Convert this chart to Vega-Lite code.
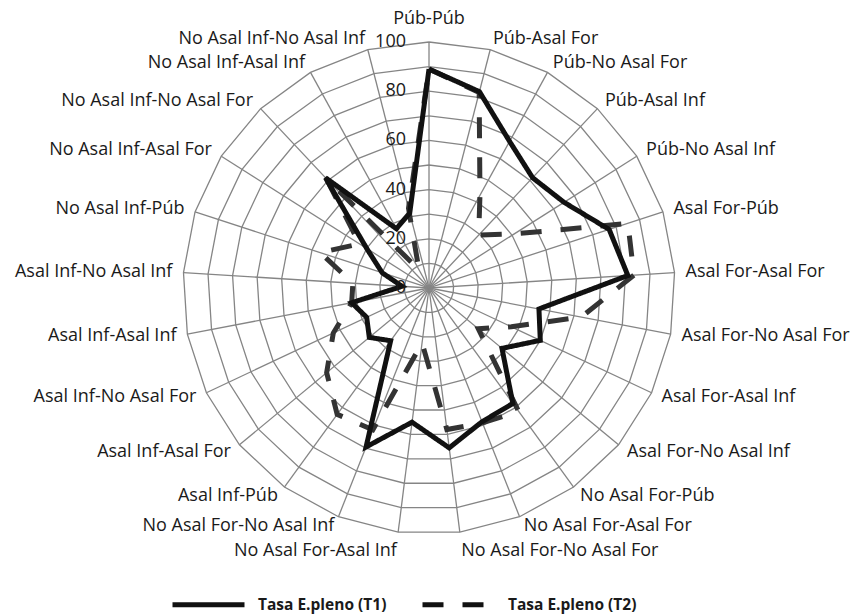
{
  "$schema": "https://vega.github.io/schema/vega-lite/v6.json",
  "width": 866,
  "height": 615,
  "padding": 0,
  "autosize": {"type": "none"},
  "background": "white",
  "config": {"view": {"stroke": null}, "font": "Open Sans"},
  "datasets": {
    "radar": [
      {"idx": 0, "cat": "Púb-Púb", "T1": 89, "T2": 89},
      {"idx": 1, "cat": "Púb-Asal For", "T1": 82.4, "T2": 82},
      {"idx": 2, "cat": "Púb-No Asal For", "T1": 68, "T2": 43},
      {"idx": 3, "cat": "Púb-Asal Inf", "T1": 61.5, "T2": 29.5},
      {"idx": 4, "cat": "Púb-No Asal Inf", "T1": 65, "T2": 41},
      {"idx": 5, "cat": "Asal For-Púb", "T1": 77, "T2": 85},
      {"idx": 6, "cat": "Asal For-Asal For", "T1": 81, "T2": 83.5},
      {"idx": 7, "cat": "Asal For-No Asal For", "T1": 45.5, "T2": 63},
      {"idx": 8, "cat": "Asal For-Asal Inf", "T1": 50, "T2": 37},
      {"idx": 9, "cat": "Asal For-No Asal Inf", "T1": 38.5, "T2": 26},
      {"idx": 10, "cat": "No Asal For-Púb", "T1": 58, "T2": 62},
      {"idx": 11, "cat": "No Asal For-Asal For", "T1": 58.5, "T2": 59},
      {"idx": 12, "cat": "No Asal For-No Asal For", "T1": 65.5, "T2": 58},
      {"idx": 13, "cat": "No Asal For-Asal Inf", "T1": 55, "T2": 22.5},
      {"idx": 14, "cat": "No Asal For-No Asal Inf", "T1": 69.5, "T2": 62},
      {"idx": 15, "cat": "Asal Inf-Púb", "T1": 26.5, "T2": 63.5},
      {"idx": 16, "cat": "Asal Inf-Asal For", "T1": 31.5, "T2": 54},
      {"idx": 17, "cat": "Asal Inf-No Asal For", "T1": 28, "T2": 43},
      {"idx": 18, "cat": "Asal Inf-Asal Inf", "T1": 32, "T2": 32},
      {"idx": 19, "cat": "Asal Inf-No Asal Inf", "T1": 11, "T2": 31},
      {"idx": 20, "cat": "No Asal Inf-Púb", "T1": 20, "T2": 46.5},
      {"idx": 21, "cat": "No Asal Inf-Asal For", "T1": 30, "T2": 33.5},
      {"idx": 22, "cat": "No Asal Inf-No Asal For", "T1": 61.5, "T2": 61},
      {"idx": 23, "cat": "No Asal Inf-Asal Inf", "T1": 27.5, "T2": 8.5},
      {"idx": 24, "cat": "No Asal Inf-No Asal Inf", "T1": 31.5, "T2": 33.5},
      {"idx": 25, "cat": "Púb-Púb", "T1": 89, "T2": 89}
    ],
    "ticks": [
      {"tick": 0}, {"tick": 20}, {"tick": 40}, {"tick": 60}, {"tick": 80}, {"tick": 100}
    ]
  },
  "layer": [
    {
      "data": {"name": "radar"},
      "transform": [
        {"calculate": "datum.idx * 2 * PI / 25", "as": "ang"},
        {"calculate": "[10,20,30,40,50,60,70,80,90,100]", "as": "lv"},
        {"flatten": ["lv"]},
        {"calculate": "datum.lv * sin(datum.ang)", "as": "gx"},
        {"calculate": "datum.lv * cos(datum.ang)", "as": "gy"}
      ],
      "mark": {"type": "line", "stroke": "#858585", "strokeWidth": 1.3},
      "encoding": {
        "x": {"field": "gx", "type": "quantitative", "scale": {"domain": [-174.39, 177.64], "nice": false, "zero": false}, "axis": null},
        "y": {"field": "gy", "type": "quantitative", "scale": {"domain": [-132.93, 117.07], "nice": false, "zero": false}, "axis": null},
        "detail": {"field": "lv", "type": "nominal"},
        "order": {"field": "idx", "type": "quantitative"}
      }
    },
    {
      "data": {"name": "radar"},
      "transform": [
        {"filter": "datum.idx < 25"},
        {"calculate": "datum.idx * 2 * PI / 25", "as": "ang"},
        {"calculate": "100 * sin(datum.ang)", "as": "sx"},
        {"calculate": "100 * cos(datum.ang)", "as": "sy"},
        {"calculate": "0", "as": "zero"}
      ],
      "mark": {"type": "rule", "stroke": "#858585", "strokeWidth": 1.3},
      "encoding": {
        "x": {"field": "sx", "type": "quantitative", "scale": {"domain": [-174.39, 177.64], "nice": false, "zero": false}, "axis": null},
        "y": {"field": "sy", "type": "quantitative", "scale": {"domain": [-132.93, 117.07], "nice": false, "zero": false}, "axis": null},
        "x2": {"field": "zero"},
        "y2": {"field": "zero"}
      }
    },
    {
      "data": {"name": "radar"},
      "transform": [
        {"calculate": "datum.idx * 2 * PI / 25", "as": "ang"},
        {"fold": ["T1", "T2"], "as": ["serie", "val"]},
        {"filter": "datum.serie == 'T2'"},
        {"calculate": "datum.val * sin(datum.ang)", "as": "px"},
        {"calculate": "datum.val * cos(datum.ang)", "as": "py"}
      ],
      "mark": {"type": "line", "strokeWidth": 5, "strokeCap": "butt", "strokeJoin": "miter", "stroke": "#333333"},
      "encoding": {
        "x": {"field": "px", "type": "quantitative", "scale": {"domain": [-174.39, 177.64], "nice": false, "zero": false}, "axis": null},
        "y": {"field": "py", "type": "quantitative", "scale": {"domain": [-132.93, 117.07], "nice": false, "zero": false}, "axis": null},
        "order": {"field": "idx", "type": "quantitative"},
        "strokeDash": {
          "field": "serie", "type": "nominal",
          "scale": {"domain": ["T1", "T2"], "range": [[1, 0], [21, 19]]},
          "legend": {
            "title": null, "orient": "none", "legendX": 170, "legendY": 566, "direction": "horizontal",
            "symbolType": "stroke", "symbolSize": 5184, "symbolStrokeWidth": 5, "symbolStrokeColor": "#111111",
            "labelFont": "Open Sans", "labelFontWeight": "bold", "labelFontSize": 15.5, "labelColor": "#1a1a1a",
            "labelOffset": 11, "columnPadding": 25, "padding": 0,
            "labelExpr": "'Tasa E.pleno (' + datum.label + ')'",
            "encode": {"symbols": {"update": {"strokeDash": [{"test": "datum.value == 'T2'", "value": [25, 22]}, {"value": [1, 0]}]}}}
          }
        }
      }
    },
    {
      "data": {"name": "radar"},
      "transform": [
        {"calculate": "datum.idx * 2 * PI / 25", "as": "ang"},
        {"fold": ["T1", "T2"], "as": ["serie", "val"]},
        {"filter": "datum.serie == 'T1'"},
        {"calculate": "datum.val * sin(datum.ang)", "as": "px"},
        {"calculate": "datum.val * cos(datum.ang)", "as": "py"}
      ],
      "mark": {"type": "line", "strokeWidth": 5, "strokeCap": "butt", "strokeJoin": "miter", "stroke": "#111111"},
      "encoding": {
        "x": {"field": "px", "type": "quantitative", "scale": {"domain": [-174.39, 177.64], "nice": false, "zero": false}, "axis": null},
        "y": {"field": "py", "type": "quantitative", "scale": {"domain": [-132.93, 117.07], "nice": false, "zero": false}, "axis": null},
        "order": {"field": "idx", "type": "quantitative"},
        "strokeDash": {"field": "serie", "type": "nominal", "scale": {"domain": ["T1", "T2"], "range": [[1, 0], [21, 19]]}}
      }
    },
    {
      "data": {"name": "radar"},
      "transform": [
        {"filter": "datum.idx >= 1 && datum.idx <= 10"},
        {"calculate": "datum.idx * 2 * PI / 25", "as": "ang"},
        {"calculate": "104.5 * sin(datum.ang)", "as": "lx"},
        {"calculate": "104.5 * cos(datum.ang)", "as": "ly"}
      ],
      "mark": {"type": "text", "align": "left", "baseline": "middle", "fontSize": 18, "font": "Open Sans", "color": "#1a1a1a"},
      "encoding": {
        "x": {"field": "lx", "type": "quantitative", "scale": {"domain": [-174.39, 177.64], "nice": false, "zero": false}, "axis": null},
        "y": {"field": "ly", "type": "quantitative", "scale": {"domain": [-132.93, 117.07], "nice": false, "zero": false}, "axis": null},
        "text": {"field": "cat"}
      }
    },
    {
      "data": {"name": "radar"},
      "transform": [
        {"filter": "datum.idx == 11"},
        {"calculate": "datum.idx * 2 * PI / 25", "as": "ang"},
        {"calculate": "104.5 * sin(datum.ang)", "as": "lx"},
        {"calculate": "104.5 * cos(datum.ang)", "as": "ly"}
      ],
      "mark": {"type": "text", "align": "left", "baseline": "middle", "fontSize": 18, "font": "Open Sans", "color": "#1a1a1a", "dy": -1},
      "encoding": {
        "x": {"field": "lx", "type": "quantitative", "scale": {"domain": [-174.39, 177.64], "nice": false, "zero": false}, "axis": null},
        "y": {"field": "ly", "type": "quantitative", "scale": {"domain": [-132.93, 117.07], "nice": false, "zero": false}, "axis": null},
        "text": {"field": "cat"}
      }
    },
    {
      "data": {"name": "radar"},
      "transform": [
        {"filter": "datum.idx == 12"},
        {"calculate": "datum.idx * 2 * PI / 25", "as": "ang"},
        {"calculate": "104.5 * sin(datum.ang)", "as": "lx"},
        {"calculate": "104.5 * cos(datum.ang)", "as": "ly"}
      ],
      "mark": {"type": "text", "align": "left", "baseline": "middle", "fontSize": 18, "font": "Open Sans", "color": "#1a1a1a", "dy": 8},
      "encoding": {
        "x": {"field": "lx", "type": "quantitative", "scale": {"domain": [-174.39, 177.64], "nice": false, "zero": false}, "axis": null},
        "y": {"field": "ly", "type": "quantitative", "scale": {"domain": [-132.93, 117.07], "nice": false, "zero": false}, "axis": null},
        "text": {"field": "cat"}
      }
    },
    {
      "data": {"name": "radar"},
      "transform": [
        {"filter": "datum.idx == 13"},
        {"calculate": "datum.idx * 2 * PI / 25", "as": "ang"},
        {"calculate": "104.5 * sin(datum.ang)", "as": "lx"},
        {"calculate": "104.5 * cos(datum.ang)", "as": "ly"}
      ],
      "mark": {"type": "text", "align": "right", "baseline": "middle", "fontSize": 18, "font": "Open Sans", "color": "#1a1a1a", "dy": 8},
      "encoding": {
        "x": {"field": "lx", "type": "quantitative", "scale": {"domain": [-174.39, 177.64], "nice": false, "zero": false}, "axis": null},
        "y": {"field": "ly", "type": "quantitative", "scale": {"domain": [-132.93, 117.07], "nice": false, "zero": false}, "axis": null},
        "text": {"field": "cat"}
      }
    },
    {
      "data": {"name": "radar"},
      "transform": [
        {"filter": "datum.idx == 14"},
        {"calculate": "datum.idx * 2 * PI / 25", "as": "ang"},
        {"calculate": "104.5 * sin(datum.ang)", "as": "lx"},
        {"calculate": "104.5 * cos(datum.ang)", "as": "ly"}
      ],
      "mark": {"type": "text", "align": "right", "baseline": "middle", "fontSize": 18, "font": "Open Sans", "color": "#1a1a1a", "dy": -1},
      "encoding": {
        "x": {"field": "lx", "type": "quantitative", "scale": {"domain": [-174.39, 177.64], "nice": false, "zero": false}, "axis": null},
        "y": {"field": "ly", "type": "quantitative", "scale": {"domain": [-132.93, 117.07], "nice": false, "zero": false}, "axis": null},
        "text": {"field": "cat"}
      }
    },
    {
      "data": {"name": "radar"},
      "transform": [
        {"filter": "datum.idx >= 15 && datum.idx <= 24"},
        {"calculate": "datum.idx * 2 * PI / 25", "as": "ang"},
        {"calculate": "104.5 * sin(datum.ang)", "as": "lx"},
        {"calculate": "104.5 * cos(datum.ang)", "as": "ly"}
      ],
      "mark": {"type": "text", "align": "right", "baseline": "middle", "fontSize": 18, "font": "Open Sans", "color": "#1a1a1a"},
      "encoding": {
        "x": {"field": "lx", "type": "quantitative", "scale": {"domain": [-174.39, 177.64], "nice": false, "zero": false}, "axis": null},
        "y": {"field": "ly", "type": "quantitative", "scale": {"domain": [-132.93, 117.07], "nice": false, "zero": false}, "axis": null},
        "text": {"field": "cat"}
      }
    },
    {
      "data": {"name": "radar"},
      "transform": [
        {"filter": "datum.idx == 0"},
        {"calculate": "0", "as": "lx"},
        {"calculate": "107.3", "as": "ly"}
      ],
      "mark": {"type": "text", "align": "center", "baseline": "alphabetic", "fontSize": 18, "font": "Open Sans", "color": "#1a1a1a"},
      "encoding": {
        "x": {"field": "lx", "type": "quantitative", "scale": {"domain": [-174.39, 177.64], "nice": false, "zero": false}, "axis": null},
        "y": {"field": "ly", "type": "quantitative", "scale": {"domain": [-132.93, 117.07], "nice": false, "zero": false}, "axis": null},
        "text": {"field": "cat"}
      }
    },
    {
      "data": {"name": "ticks"},
      "transform": [{"calculate": "0", "as": "tx"}],
      "mark": {"type": "text", "align": "right", "baseline": "middle", "fontSize": 18, "font": "Open Sans", "color": "#1a1a1a", "dx": -23},
      "encoding": {
        "x": {"field": "tx", "type": "quantitative", "scale": {"domain": [-174.39, 177.64], "nice": false, "zero": false}, "axis": null},
        "y": {"field": "tick", "type": "quantitative", "scale": {"domain": [-132.93, 117.07], "nice": false, "zero": false}, "axis": null},
        "text": {"field": "tick", "type": "quantitative"}
      }
    }
  ]
}
